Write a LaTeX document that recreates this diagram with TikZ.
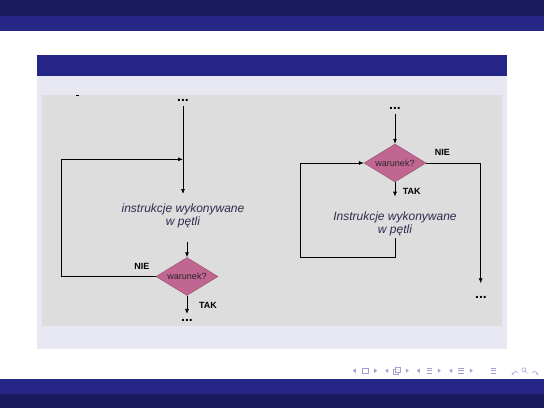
\documentclass[tikz,border=0pt]{standalone}
\usepackage{fontspec}
\usepackage{xcolor}
\usepackage{tikz}
\newfontfamily\flowfont{Liberation Sans}
\definecolor{navydark}{RGB}{25,25,92}
\definecolor{navy}{RGB}{38,38,135}
\definecolor{blockbody}{RGB}{232,232,242}
\definecolor{picgrey}{RGB}{221,221,221}
\definecolor{condfill}{RGB}{192,102,144}
\definecolor{navsym}{RGB}{160,160,210}
\definecolor{bodytext}{RGB}{45,45,80}
\usetikzlibrary{%
  arrows.meta,
  positioning,
  shapes.geometric
}
\tikzset{
cond/.style = {diamond, aspect=1.63, fill=condfill, draw=condfill!75!black, thin,
               minimum width=62pt, minimum height=38pt, inner sep=0pt,
               font=\flowfont\fontsize{9}{10}\selectfont, text=black!85},
loopbody/.style = {align=center, inner sep=0pt, text=bodytext,
               font=\flowfont\itshape\fontsize{12}{13.7}\selectfont},
dots/.style = {inner sep=0pt, outer sep=5pt, font=\flowfont\bfseries\fontsize{14}{14}\selectfont},
answer/.style = {inner sep=0pt, font=\flowfont\bfseries\fontsize{9}{10}\selectfont},
flow/.style = {draw=black, line width=0.7pt},
arr/.style = {flow, -{Latex[length=5pt,width=4pt]}},
navtip/.style = {navsym, line width=0.6pt, -{Latex[length=1.8pt,width=2.6pt]}}
}

\begin{document}
\begin{tikzpicture}[x=1pt,y=-1pt]
  \useasboundingbox (0,0) rectangle (544,408);
  % slide frame
  \fill[navydark] (0,0) rectangle (544,16);
  \fill[navy] (0,16) rectangle (544,31);
  \fill[navy] (37,55) rectangle (507,76);
  \fill[blockbody] (37,76) rectangle (507,349);
  \fill[picgrey] (42,95) rectangle (502,326);
  \fill[black] (75.5,94.5) rectangle (79,96);
  \fill[navy] (0,379) rectangle (544,393.5);
  \fill[navydark] (0,393.5) rectangle (544,408);

  % left loop: body first, condition after
  \node[dots] (ldotsin) at (183,100) {...};
  \node[loopbody] (lbody) at (183,216) {instrukcje wykonywane\\w pętli};
  \node[cond] (lcond) at (187,276.5) {warunek?};
  \node[dots] (ldotsout) at (187,320) {...};
  \node[answer] (lnie) at (142,266) {NIE};
  \node[answer] (ltak) at (208,305) {TAK};
  \coordinate (lmerge) at (183,159.3);
  \coordinate (lbodyin) at (183,194);
  \coordinate (lbodyout) at (187,241.7);
  \coordinate (lback) at (61,276.5);
  \draw[flow] (ldotsin.south) -- (lmerge);
  \draw[arr] (lmerge) -- (lbodyin);
  \draw[arr] (lbodyout) -- (lcond.north);
  \draw[arr] (lcond.west) -- (lback) |- (lmerge);
  \draw[arr] (lcond.south) -- (ldotsout.north);

  % right loop: condition first
  \node[dots] (rdotsin) at (395,108.3) {...};
  \node[cond] (rcond) at (395,163) {warunek?};
  \node[loopbody] (rbody) at (395,224) {Instrukcje wykonywane\\w pętli};
  \node[dots] (rdotsout) at (481,297.3) {...};
  \node[answer] (rnie) at (442.3,152.3) {NIE};
  \node[answer] (rtak) at (411.7,191) {TAK};
  \coordinate (rbodyin) at (395,196.7);
  \coordinate (rbodyout) at (395,238.3);
  \coordinate (rback) at (300.7,257.3);
  \coordinate (rexit) at (480.7,283.3);
  \draw[arr] (rdotsin.south) -- (rcond.north);
  \draw[arr] (rcond.south) -- (rbodyin);
  \draw[arr] (rbodyout) |- (rback) |- (rcond.west);
  \draw[arr] (rcond.east) -| (rexit);

  % navigation symbols
  \foreach \x in {354.3,386.7,418.3,450.7}{
    \fill[navsym] (\x-1.5,370.7) -- (\x+1.5,368.5) -- (\x+1.5,372.9) -- cycle;
  }
  \foreach \x in {375.7,407.3,439.3,471.3}{
    \fill[navsym] (\x+1.5,370.7) -- (\x-1.5,368.5) -- (\x-1.5,372.9) -- cycle;
  }
  \draw[navsym,line width=0.8pt] (362,368) rectangle (368,373.4);
  \draw[navsym,line width=0.7pt] (393,369.5) rectangle (398.5,374);
  \draw[navsym,line width=0.7pt,fill=blockbody!40!white] (395,367.5) rectangle (400.5,372);
  \foreach \x in {429.3,461,493.3}{
    \foreach \dy in {-2.6,0,2.6}{
      \draw[navsym,line width=0.7pt] (\x-2.8,370.7+\dy) -- (\x+2.8,370.7+\dy);
    }
  }
  \draw[navtip] (517.8,372.5) arc[start angle=-40, end angle=-200, radius=2.8];
  \draw[navsym,line width=0.6pt] (523.8,369.8) circle (2) (525.2,371.2) -- (527.3,373.3);
  \draw[navtip] (532.2,372.5) arc[start angle=220, end angle=380, radius=2.8];
\end{tikzpicture}
\end{document}
